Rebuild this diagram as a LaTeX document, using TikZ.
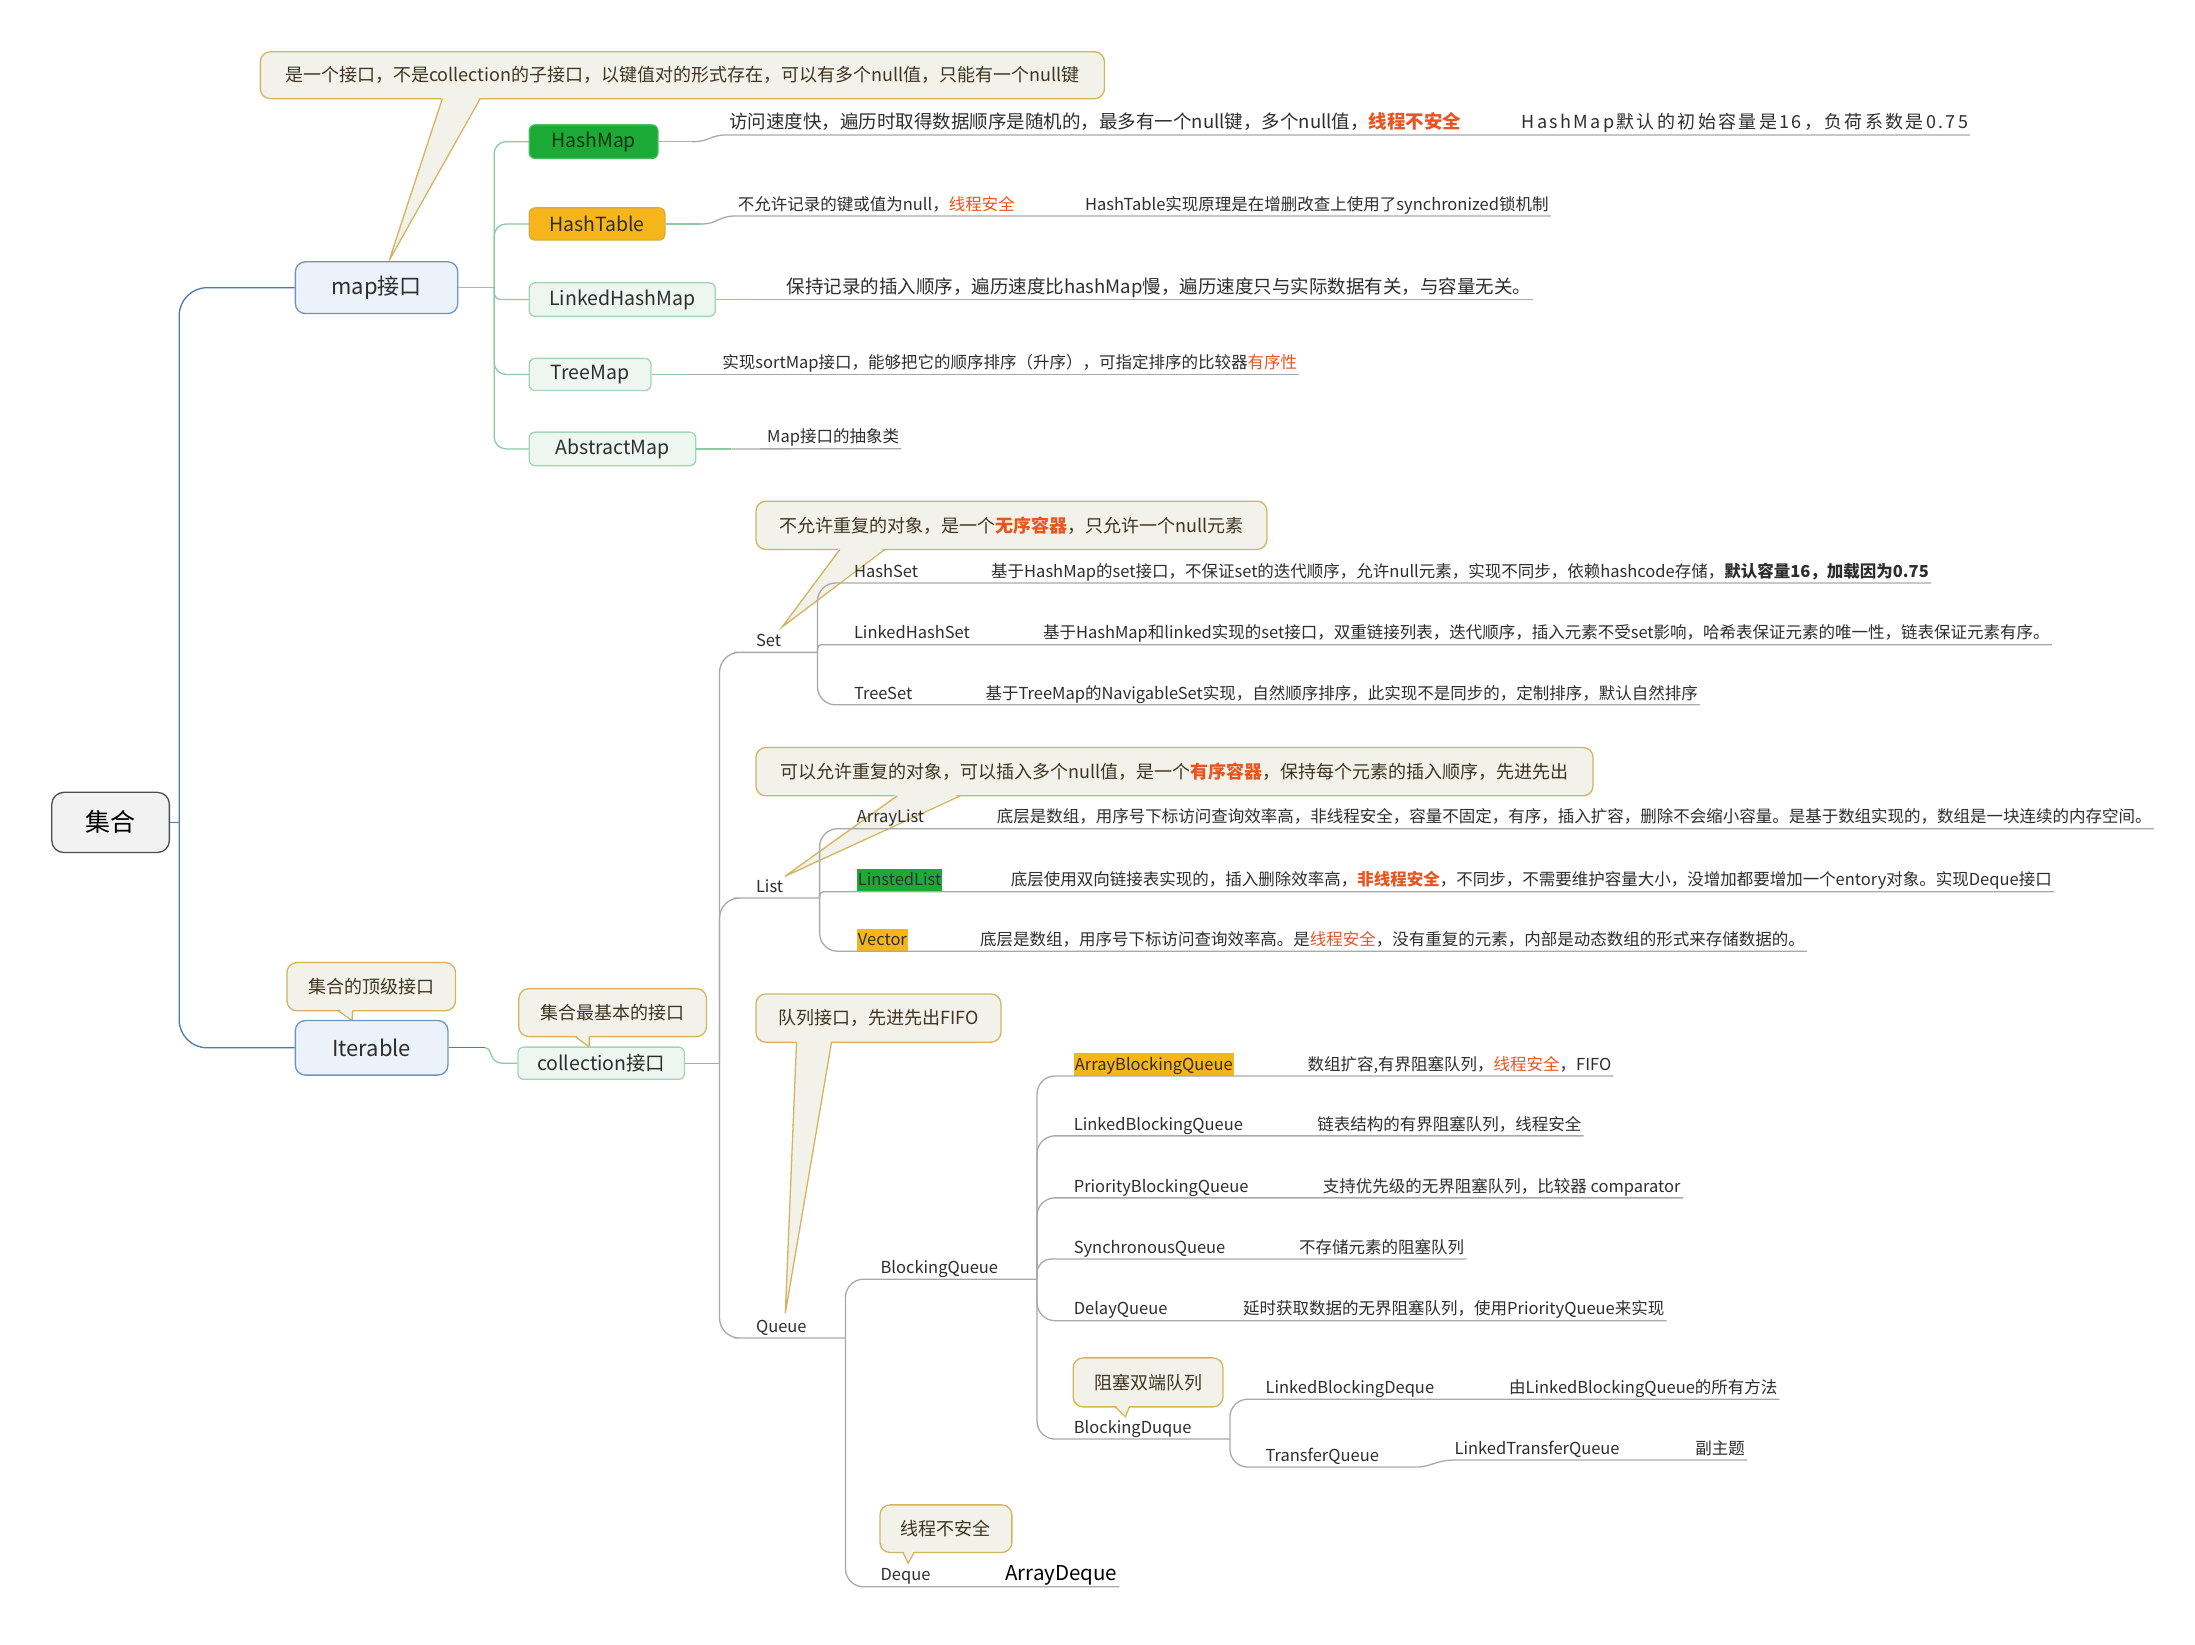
\documentclass[tikz,border=0pt]{standalone}
\usepackage{fontspec}
\setmainfont{Noto Sans CJK SC}
\newfontfamily\widefont[LetterSpace=13]{Noto Sans CJK SC}
\usetikzlibrary{calc}
\definecolor{txt}{HTML}{2E2E2E}
\definecolor{redA}{HTML}{EA5420}
\definecolor{cofill}{HTML}{F3F2EA}
\definecolor{coline}{HTML}{D3B560}
\definecolor{cotxt}{HTML}{3E3522}
\definecolor{grayL}{HTML}{A9A9A9}
\definecolor{greenL}{HTML}{8DC9A1}
\definecolor{blueL}{HTML}{4B79B2}
\definecolor{hmfill}{HTML}{1BAA36}
\definecolor{hmline}{HTML}{4DB862}
\definecolor{htfill}{HTML}{F6B61B}
\definecolor{htline}{HTML}{D8AA40}
\definecolor{lgfill}{HTML}{EDF6F0}
\definecolor{lgline}{HTML}{A3D5B4}
\definecolor{lbfill}{HTML}{EBF2FA}
\definecolor{lbline}{HTML}{7093C3}
\newcommand{\hlr}[1]{\textcolor{redA}{#1}}
\newcommand{\hlrb}[1]{\textcolor{redA}{\bfseries #1}}
\newcommand{\mytail}[3]{%
  \fill[cofill] ($(#1)+(0,-1.6)$) -- (#3) -- ($(#2)+(0,-1.6)$) -- cycle;
  \draw[taild] (#1) -- (#3) -- (#2);}
\begin{document}
\begin{tikzpicture}[x=1.4pt,y=-1.4pt,
  lbl/.style={anchor=south west, inner xsep=2pt, inner ysep=0pt, text height=12.5pt, text depth=5.6pt, font=\fontsize{16.5}{16.5}\selectfont, text=txt},
  bigtxt/.style={text height=14pt, text depth=6.2pt, font=\fontsize{18.5}{18.5}\selectfont},
  hlnode/.style={lbl, inner xsep=1pt, text height=16.8pt, text depth=5.6pt},
  mbox/.style={rounded corners=6pt, line width=1.3pt, inner sep=0pt, text=txt, font=\fontsize{19.5}{19.5}\selectfont},
  gbox/.style={mbox, fill=lgfill, draw=lgline},
  bbox/.style={mbox, fill=lbfill, draw=lbline, rounded corners=10pt, font=\fontsize{22}{22}\selectfont},
  cobox/.style={rounded corners=10pt, fill=cofill, draw=coline, line width=1.3pt, inner sep=0pt, text=cotxt, font=\fontsize{18}{18}\selectfont},
  taild/.style={draw=coline, line width=1.3pt, line join=miter},
  grl/.style={draw=grayL, line width=1.3pt},
  gnl/.style={draw=greenL, line width=1.3pt},
  bll/.style={draw=blueL, line width=1.3pt},
]
\fill[white] (0,0) rectangle (1568,1175);
\useasboundingbox (0,0) rectangle (1568,1175);

% ---------- callouts (behind the topics) ----------
\node[cobox, minimum width=844.2pt, minimum height=46.9pt] (mapc) at (487.5,53.75) {是一个接口，不是collection的子接口，以键值对的形式存在，可以有多个null值，只能有一个null键};
\mytail{316,70.5}{343,70.5}{278,186}
\node[cobox, minimum width=511pt, minimum height=48.3pt] (setc) at (722.5,375.25) {不允许重复的对象，是一个\hlrb{无序容器}，只允许一个null元素};
\mytail{600,392.5}{632,392.5}{558.6,448}
\node[cobox, minimum width=837.2pt, minimum height=48.3pt] (listc) at (839,551.25) {可以允许重复的对象，可以插入多个null值，是一个\hlrb{有序容器}，保持每个元素的插入顺序，先进先出};
\mytail{641,568.5}{686,568.5}{560.7,626}
\node[cobox, minimum width=245pt, minimum height=48.3pt] (qc) at (627.5,727.25) {队列接口，先进先出FIFO};
\mytail{569,744.5}{594,744.5}{561,938}
\node[cobox, minimum width=168.6pt, minimum height=48.2pt] (ic) at (265.2,704.8) {集合的顶级接口};
\mytail{241.6,722}{252,722}{251.5,729}
\node[cobox, minimum width=187.7pt, minimum height=48pt] (cc) at (437.65,723.35) {集合最基本的接口};
\mytail{411,740.5}{421,740.5}{421,748}
\node[cobox, minimum width=149.8pt, minimum height=49pt] (bdc) at (820.1,987.5) {阻塞双端队列};
\mytail{796.6,1005}{806.8,1005}{804,1012}
\node[cobox, minimum width=131.9pt, minimum height=47.6pt] (dqc) at (675.7,1092) {线程不安全};
\mytail{645,1109}{653,1109}{648.7,1116.6}

% ---------- main boxes ----------
\node[mbox, fill={rgb,255:red,242;green,242;blue,242}, draw={rgb,255:red,77;green,77;blue,77}, rounded corners=12pt, minimum width=117.6pt, minimum height=60.2pt, font=\fontsize{25}{25}\selectfont, text=black] (root) at (79,587.5) {集合};
\node[bbox, minimum width=162.4pt, minimum height=51.8pt] (map) at (269,205.5) {map接口};
\node[bbox, minimum width=152.6pt, minimum height=54.6pt] (iter) at (265.5,748.5) {Iterable};
\node[gbox, minimum width=166.6pt, minimum height=32.2pt] (coll) at (429.5,759.5) {collection接口};

\node[mbox, fill=hmfill, draw=hmline, minimum width=128.8pt, minimum height=33.6pt, text={rgb,255:red,20;green,50;blue,20}] (hm) at (424,101.2) {HashMap};
\node[mbox, fill=htfill, draw=htline, minimum width=135.8pt, minimum height=32.2pt] (ht) at (426.5,160) {HashTable};
\node[gbox, minimum width=186.2pt, minimum height=33.6pt] (lhm) at (444.5,214) {LinkedHashMap};
\node[gbox, minimum width=121.8pt, minimum height=32.2pt] (tm) at (421.5,267.5) {TreeMap};
\node[gbox, minimum width=166.6pt, minimum height=33.6pt] (am) at (437.5,320.7) {AbstractMap};

% ---------- map descriptions ----------
\node[lbl, bigtxt] (hmd1) at (519.5,96.4) {访问速度快，遍历时取得数据顺序是随机的，最多有一个null键，多个null值，\hlrb{线程不安全}};
\node[lbl, bigtxt, font=\fontsize{18}{18}\widefont] (hmd2) at (1085.5,96.4) {HashMap默认的初始容量是16，负荷系数是0.75};
\node[lbl] (htd1) at (525.5,154.3) {不允许记录的键或值为null，\hlr{线程安全}};
\node[lbl] (htd2) at (773.5,154.3) {HashTable实现原理是在增删改查上使用了synchronized锁机制};
\node[lbl, bigtxt] (lhd) at (560.5,214) {保持记录的插入顺序，遍历速度比hashMap慢，遍历速度只与实际数据有关，与容量无关。};
\node[lbl] (tmd) at (514.5,267.5) {实现sortMap接口，能够把它的顺序排序（升序），可指定排序的比较器\hlr{有序性}};
\node[lbl] (amd) at (546.5,320.5) {Map接口的抽象类};

% ---------- collection subtree labels ----------
\node[lbl] (setl) at (538.5,466) {Set};
\node[lbl] (hs) at (608.5,416.5) {HashSet};
\node[lbl] (hsd) at (706.5,416.5) {基于HashMap的set接口，不保证set的迭代顺序，允许null元素，实现不同步，依赖hashcode存储，{\bfseries 默认容量16，加载因为0.75}};
\node[lbl] (lhs) at (608.5,460.5) {LinkedHashSet};
\node[lbl] (lhsd) at (743.5,460.5) {基于HashMap和linked实现的set接口，双重链接列表，迭代顺序，插入元素不受set影响，哈希表保证元素的唯一性，链表保证元素有序。};
\node[lbl] (ts) at (608.5,503.5) {TreeSet};
\node[lbl] (tsd) at (702.5,503.5) {基于TreeMap的NavigableSet实现，自然顺序排序，此实现不是同步的，定制排序，默认自然排序};

\node[lbl] (listl) at (538.5,641.5) {List};
\node[lbl] (al) at (610.5,592) {ArrayList};
\node[lbl] (ald) at (710.5,592) {底层是数组，用序号下标访问查询效率高，非线程安全，容量不固定，有序，插入扩容，删除不会缩小容量。是基于数组实现的，数组是一块连续的内存空间。};
\node[hlnode, fill=hmfill] (ll) at (612,637) {LinstedList};
\node[lbl] (lld) at (720.5,637) {底层使用双向链接表实现的，插入删除效率高，\hlrb{非线程安全}，不同步，不需要维护容量大小，没增加都要增加一个entory对象。实现Deque接口};
\node[hlnode, fill=htfill] (vec) at (612,679.5) {Vector};
\node[lbl] (vecd) at (698.5,679.5) {底层是数组，用序号下标访问查询效率高。是\hlr{线程安全}，没有重复的元素，内部是动态数组的形式来存储数据的。};

\node[lbl] (ql) at (538.5,955.8) {Queue};
\node[lbl] (bq) at (627.5,913.8) {BlockingQueue};
\node[hlnode, fill=htfill] (abq) at (767,768.6) {ArrayBlockingQueue};
\node[lbl] (abqd) at (932.5,768.6) {数组扩容,有界阻塞队列，\hlr{线程安全}，FIFO};
\node[lbl] (lbq) at (765.5,811.4) {LinkedBlockingQueue};
\node[lbl] (lbqd) at (939.5,811.4) {链表结构的有界阻塞队列，线程安全};
\node[lbl] (pbq) at (765.5,855.7) {PriorityBlockingQueue};
\node[lbl] (pbqd) at (943.5,855.7) {支持优先级的无界阻塞队列，比较器 comparator};
\node[lbl] (sq) at (765.5,899.4) {SynchronousQueue};
\node[lbl] (sqd) at (926.5,899.4) {不存储元素的阻塞队列};
\node[lbl] (dq) at (765.5,943.4) {DelayQueue};
\node[lbl] (dqd) at (886.5,943.4) {延时获取数据的无界阻塞队列，使用PriorityQueue来实现};
\node[lbl] (bd) at (765.5,1028) {BlockingDuque};
\node[lbl] (lbd) at (902.5,999.5) {LinkedBlockingDeque};
\node[lbl] (lbdd) at (1076.5,999.5) {由LinkedBlockingQueue的所有方法};
\node[lbl] (tq) at (902.5,1048) {TransferQueue};
\node[lbl] (ltq) at (1037.5,1043) {LinkedTransferQueue};
\node[lbl] (sub) at (1209.5,1043) {副主题};
\node[lbl] (deq) at (627.5,1133.5) {Deque};
\node[lbl, text height=15pt, text depth=6pt, font=\fontsize{20.5}{20.5}\selectfont, text=black] (ad) at (716.5,1133.5) {ArrayDeque};

% ---------- connectors: root ----------
\coordinate (rj) at (128,587.5);
\draw[bll] (root.east) -- (rj);
\draw[bll, rounded corners=28pt] (rj) |- (map.west);
\draw[bll, rounded corners=28pt] (rj) |- (iter.west);

% ---------- connectors: map ----------
\coordinate (mj) at (353,205.5);
\draw[gnl] (map.east) -- (mj);
\draw[gnl, rounded corners=12pt] (mj) |- (hm.west);
\draw[gnl, rounded corners=12pt] (mj) |- (ht.west);
\draw[gnl, rounded corners=7pt] (mj) |- (lhm.west);
\draw[gnl, rounded corners=12pt] (mj) |- (tm.west);
\draw[gnl, rounded corners=12pt] (mj) |- (am.west);

\draw[gnl] (hm.east) -- ++(24,0) coordinate (hmk);
\draw[grl] (hmk) .. controls ($(hmk)+(13,0)$) and ($(hmd1.south west)+(-13,0)$) .. (hmd1.south west) -- (hmd2.south east);
\draw[gnl] (ht.east) -- ++(25,0) coordinate (htk);
\draw[grl] (htk) .. controls ($(htk)+(13,0)$) and ($(htd1.south west)+(-13,0)$) .. (htd1.south west) -- (htd2.south east);
\draw[gnl] (lhm.east) -- ++(26,0) coordinate (lhk);
\draw[grl] (lhk) -- (lhd.south east);
\draw[gnl] (tm.east) -- ++(25,0) coordinate (tmk);
\draw[grl] (tmk) -- (tmd.south east);
\draw[gnl] (am.east) -- ++(25,0) coordinate (amk);
\draw[grl] (amk) -- (amd.south east);

% ---------- connectors: iterable / collection ----------
\draw[bll] (iter.east) -- ++(26,0) coordinate (ij);
\draw[gnl] (ij) .. controls ($(ij)+(6,0)$) and ($(ij)+(2,11)$) .. ($(ij)+(13,11)$) -- (coll.west);

\coordinate (cj) at (514,759.5);
\draw[grl] (coll.east) -- (cj);
\coordinate (setj) at (584,466);
\coordinate (listj) at (585.5,641.5);
\coordinate (qj) at (604,955.8);
\draw[grl, rounded corners=20pt] (cj) |- (setl.south west) -- (setj);
\draw[grl, rounded corners=20pt] (cj) |- (listl.south west) -- (listj);
\draw[grl, rounded corners=20pt] (cj) |- (ql.south west) -- (qj);

\draw[grl, rounded corners=18pt] (setj) |- (hs.south west) -- (hsd.south east);
\draw[grl, rounded corners=4pt] (setj) |- (lhs.south west) -- (lhsd.south east);
\draw[grl, rounded corners=18pt] (setj) |- (ts.south west) -- (tsd.south east);

\draw[grl, rounded corners=18pt] (listj) |- (al.south west) -- (ald.south east);
\draw[grl, rounded corners=4pt] (listj) |- (ll.south west) -- (lld.south east);
\draw[grl, rounded corners=18pt] (listj) |- (vec.south west) -- (vecd.south east);

\coordinate (bqj) at (740.8,913.8);
\draw[grl, rounded corners=18pt] (qj) |- (bq.south west) -- (bqj);
\draw[grl, rounded corners=18pt] (qj) |- (deq.south west) -- (ad.south east);

\draw[grl, rounded corners=18pt] (bqj) |- (abq.south west) -- (abqd.south east);
\draw[grl, rounded corners=18pt] (bqj) |- (lbq.south west) -- (lbqd.south east);
\draw[grl, rounded corners=18pt] (bqj) |- (pbq.south west) -- (pbqd.south east);
\draw[grl, rounded corners=14pt] (bqj) |- (sq.south west) -- (sqd.south east);
\draw[grl, rounded corners=18pt] (bqj) |- (dq.south west) -- (dqd.south east);
\coordinate (bdj) at (878.6,1028);
\draw[grl, rounded corners=18pt] (bqj) |- (bd.south west) -- (bdj);
\draw[grl, rounded corners=18pt] (bdj) |- (lbd.south west) -- (lbdd.south east);
\draw[grl, rounded corners=18pt] (bdj) |- (tq.south west) -- ($(tq.south west)+(110,0)$) coordinate (tqk);
\draw[grl] (tqk) .. controls ($(tqk)+(8,0)$) and ($(ltq.south west)+(-10,0)$) .. (ltq.south west) -- (sub.south east);
\end{tikzpicture}
\end{document}
